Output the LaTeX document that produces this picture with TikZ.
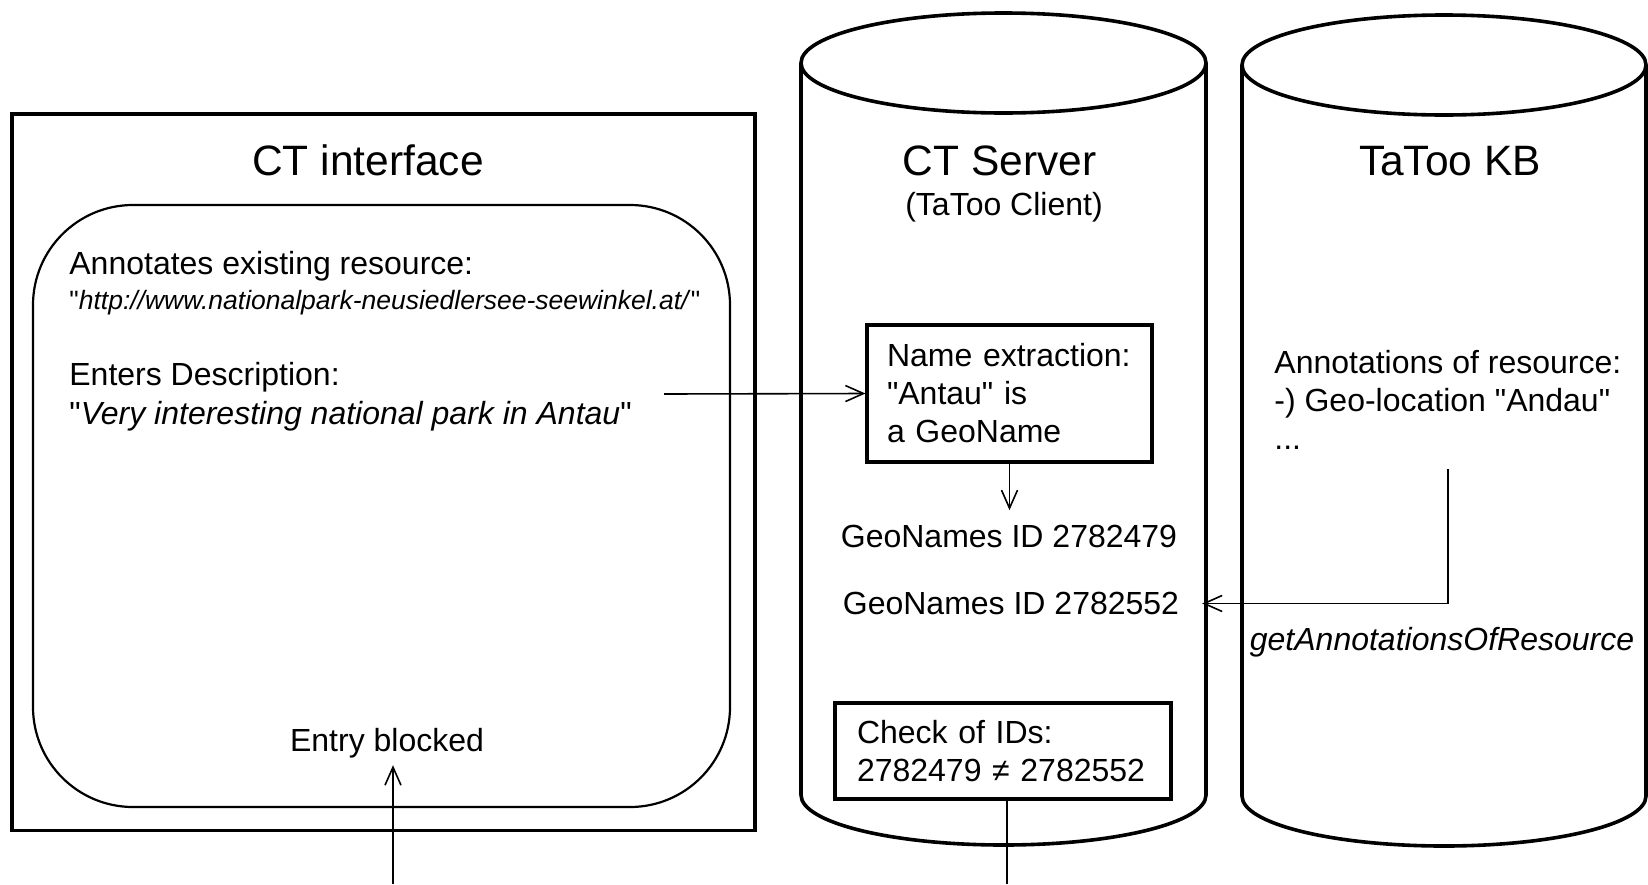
\documentclass[tikz,border=0pt]{standalone}
\usepackage{fontspec}
\setmainfont{Liberation Sans}[Ligatures=TeXOff]
\usetikzlibrary{arrows.meta}
\newcommand{\bodyfont}{\fontsize{16}{19}\selectfont}
\newcommand{\titlefont}{\fontsize{21.25}{25}\selectfont}
\newcommand{\urlfont}{\fontsize{13.25}{16}\selectfont}
\begin{document}
\begin{tikzpicture}[x=0.5pt, y=-0.5pt,
        txt/.style={font=\bodyfont, inner sep=0pt, anchor=base west},
        ttl/.style={font=\titlefont, inner sep=0pt, anchor=base},
        box/.style={draw, line width=1.6pt, font=\bodyfont, align=left, inner ysep=0pt},
        arr/.style={-{Straight Barb[length=9pt, width=8pt]}, line width=0.8pt},
        cyl/.style={line width=1.8pt}]
        \useasboundingbox (0,0) rectangle (1648,884);
        % CT interface
        \node[draw, line width=1.6pt, minimum width=371.5pt, minimum height=358.25pt] (ui) at (383.5,472.25) {};
        \node[draw, line width=1.1pt, rounded corners=50pt, minimum width=348.5pt, minimum height=301pt] (form) at (381.5,506) {};
        \node[ttl] (uititle) at (368,175) {CT interface};
        \node[txt] (annot) at (69,274.5) {Annotates existing resource:};
        \node[txt, font=\urlfont] (url) at (69,309) {"\textit{http://www.nationalpark-neusiedlersee-seewinkel.at/}"};
        \node[txt] (enters) at (69,385.5) {Enters Description:};
        \node[txt] (desc) at (69,424.5) {"\textit{Very interesting national park in Antau}"};
        \node[font=\bodyfont, anchor=base] (blocked) at (387,751.5) {Entry blocked};
        % CT Server
        \draw[cyl] (1003.5,63) ellipse [x radius=202.5, y radius=50];
        \draw[cyl] (801,63) -- (801,795) arc[start angle=180, end angle=0, x radius=202.5, y radius=50] -- (1206,63);
        \node[ttl] (srvtitle) at (999.5,175) {CT Server};
        \node[ttl, font=\bodyfont] (srvsub) at (1004,215) {(TaToo Client)};
        \node[box, text width=122.5pt, inner xsep=10pt, minimum height=68.5pt] (name) at (1009.5,393.5) {Name extraction:\\"Antau" is\\a GeoName};
        \node[font=\bodyfont, anchor=base] (geo1) at (1009,547.5) {GeoNames ID 2782479};
        \node[font=\bodyfont, anchor=base] (geo2) at (1011,614.5) {GeoNames ID 2782552};
        \node[box, text width=146pt, inner xsep=11pt, minimum height=48pt] (check) at (1003,751) {Check of IDs:\\2782479 ≠ 2782552};
        % TaToo KB
        \draw[cyl] (1444,65) ellipse [x radius=202, y radius=50];
        \draw[cyl] (1242,65) -- (1242,796) arc[start angle=180, end angle=0, x radius=202, y radius=50] -- (1646,65);
        \node[ttl] (kbtitle) at (1450,175) {TaToo KB};
        \node[txt] (kb1) at (1274,373) {Annotations of resource:};
        \node[txt] (kb2) at (1274,411.5) {-) Geo-location "Andau"};
        \node[txt] (kb3) at (1274,449) {...};
        \node[font=\bodyfont, anchor=base] (getann) at (1442,650) {\textit{getAnnotationsOfResource}};
        % connectors
        \coordinate (descout) at (664,394);
        \coordinate (kbout) at (1448,469);
        \coordinate (entryin) at (393,884);
        \coordinate (checkout) at (1007,884);
        \draw[arr] (descout) -- (name.west);
        \draw[arr, shorten >=4pt] (name.south) -- (name.south |- geo1.north);
        \draw[arr] (kbout) |- ([xshift=8pt]geo2.east);
        \draw[line width=0.8pt] (check.south -| checkout) -- (checkout);
        \draw[arr] (entryin) -- (entryin |- blocked.south);
\end{tikzpicture}
\end{document}
